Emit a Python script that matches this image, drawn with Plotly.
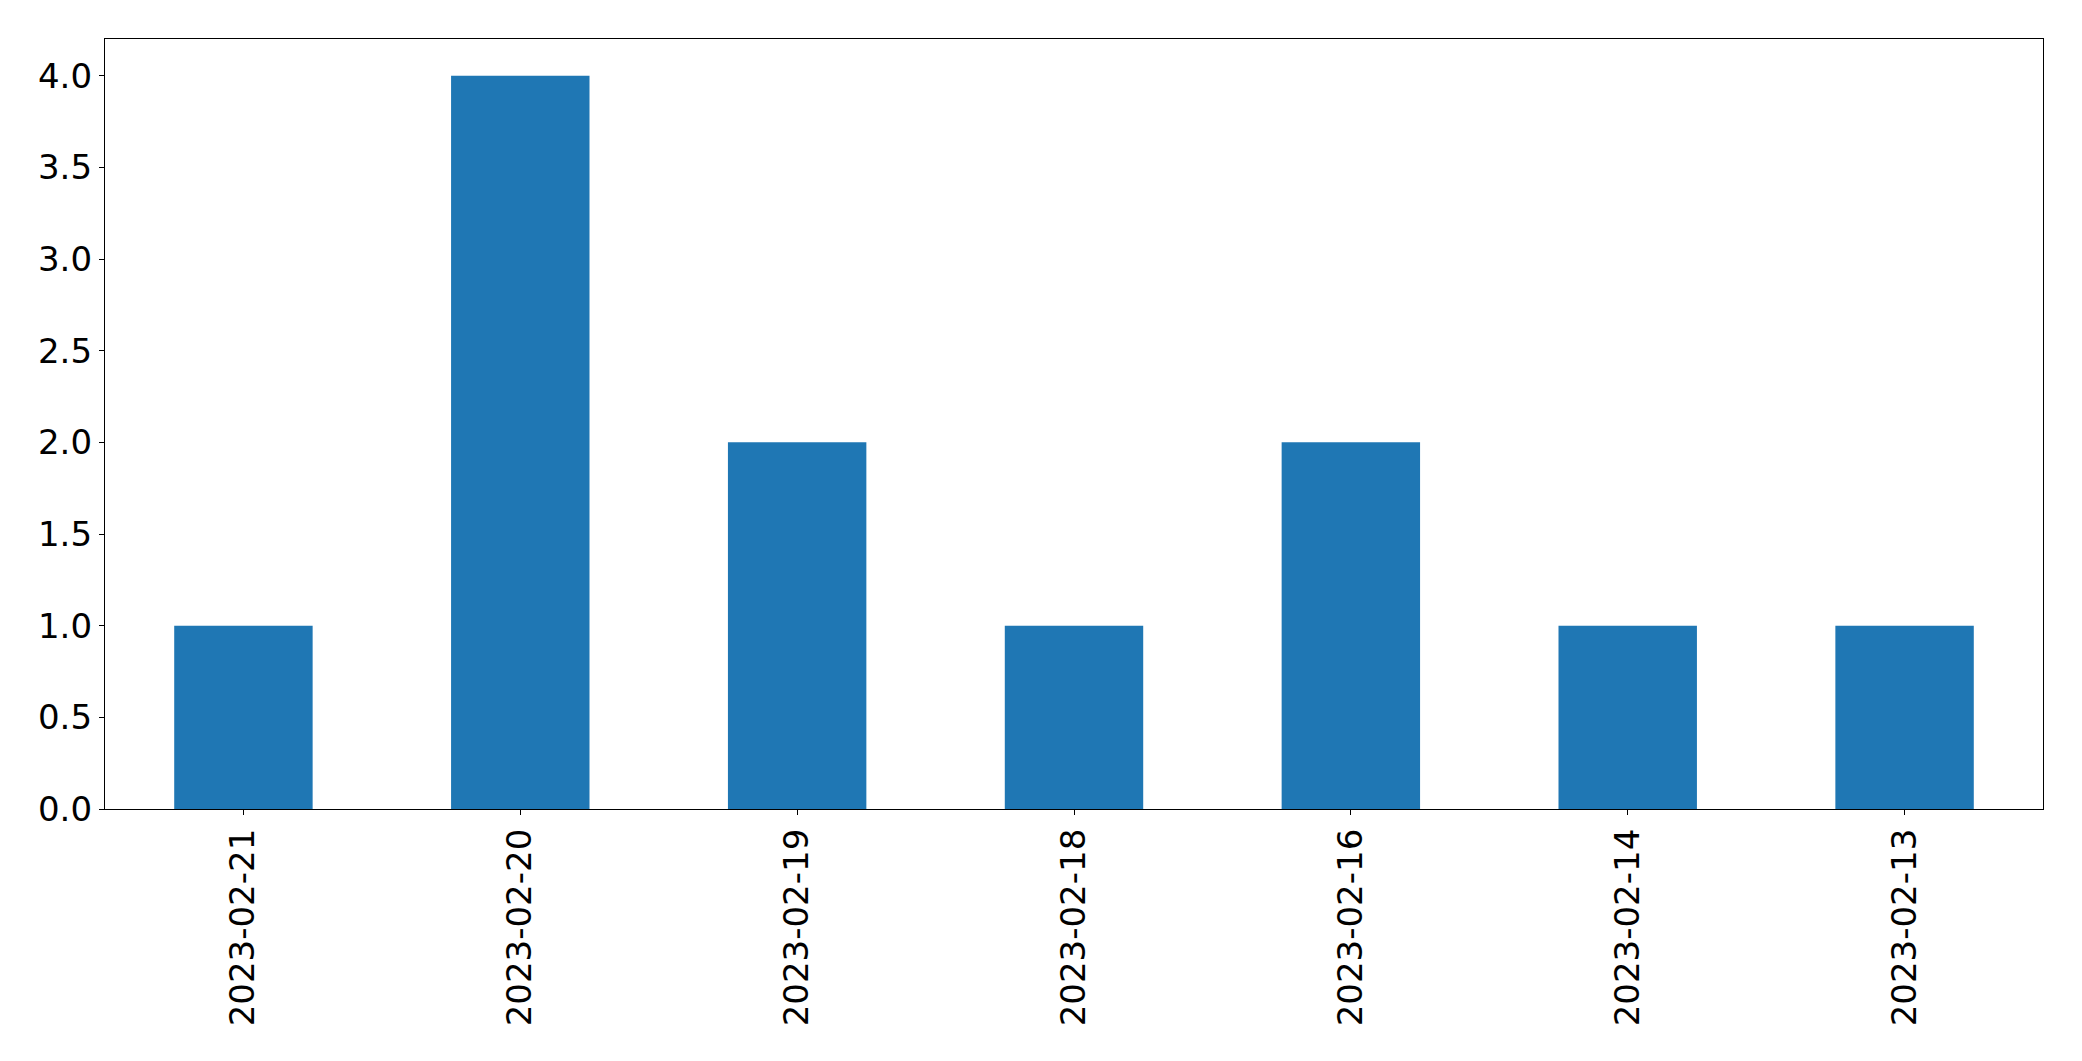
import plotly.graph_objects as go

categories = ["2023-02-21", "2023-02-20", "2023-02-19", "2023-02-18", "2023-02-16", "2023-02-14", "2023-02-13"]
values = [1, 4, 2, 1, 2, 1, 1]
y_ticks = [0.0, 0.5, 1.0, 1.5, 2.0, 2.5, 3.0, 3.5, 4.0]

fig = go.Figure(go.Bar(x=categories, y=values, marker=dict(color="#1f77b4", line=dict(width=0)), width=0.5))

font = dict(family="DejaVu Sans", size=34, color="black")
fig.update_layout(
    width=2074, height=1053,
    margin=dict(l=97, r=39, t=31, b=252, pad=0, autoexpand=False),
    paper_bgcolor="white", plot_bgcolor="white",
    showlegend=False, font=font, bargap=0.5,
)
fig.update_xaxes(
    type="category", range=[-0.5, 6.5], tickangle=-90,
    showline=True, linecolor="black", linewidth=1.3, mirror=True,
    ticks="outside", ticklen=5, tickwidth=1.3, tickcolor="black",
    showgrid=False, zeroline=False, tickfont=font, ticklabelstandoff=0,
)
fig.update_yaxes(
    range=[0, 4.2], tickvals=y_ticks, ticktext=[f"{v:.1f}" for v in y_ticks],
    showline=True, linecolor="black", linewidth=1.3, mirror=True,
    ticks="outside", ticklen=5, tickwidth=1.3, tickcolor="black",
    showgrid=False, zeroline=False, tickfont=font, ticklabelstandoff=0,
)
fig.write_html("out.html")
